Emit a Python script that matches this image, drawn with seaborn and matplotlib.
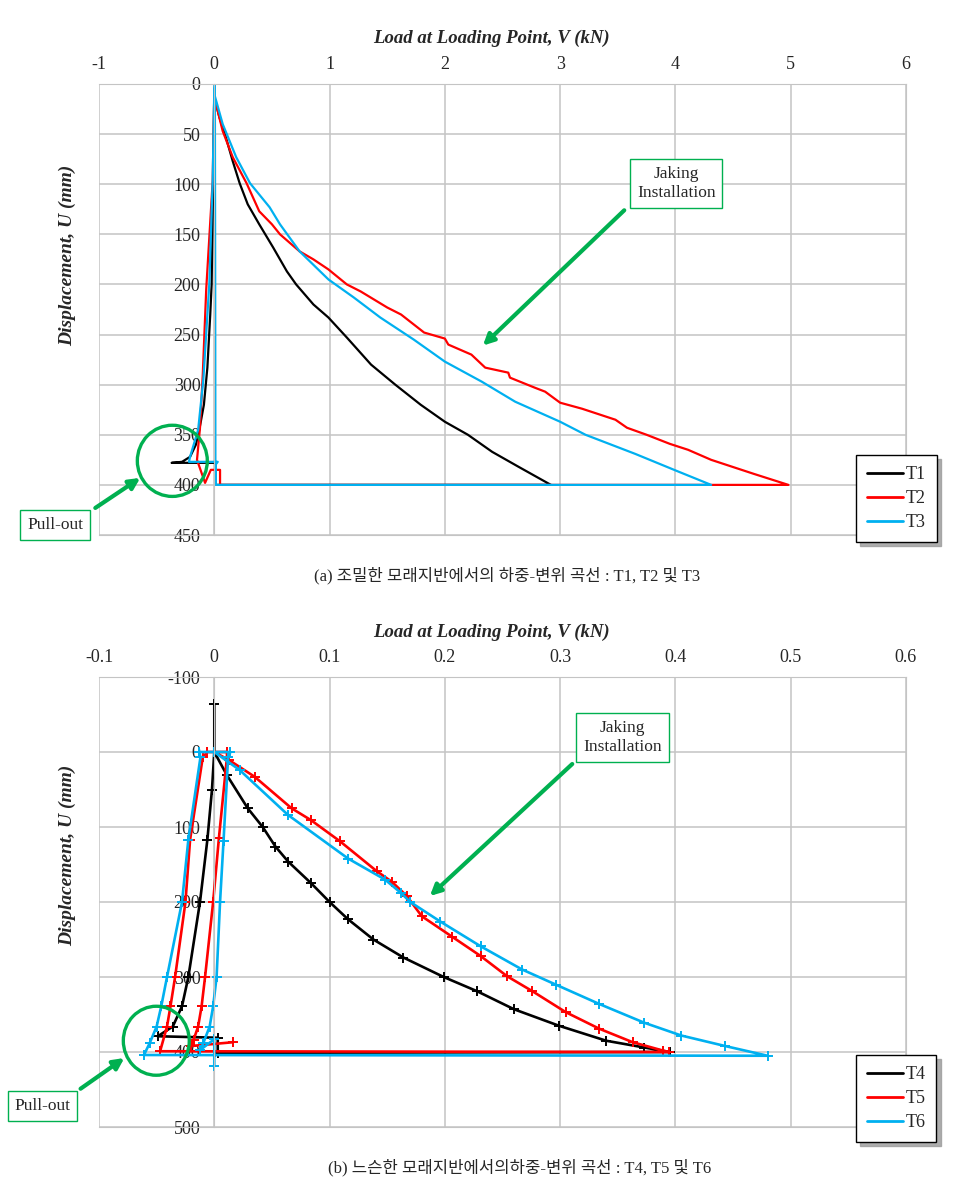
import numpy as np
import pandas as pd
import seaborn as sns
import matplotlib.pyplot as plt
from matplotlib.lines import Line2D
from matplotlib.patches import Ellipse

# ---- values: load V (kN) vs displacement U (mm) ----
# (a) dense sand
t1_load = [0.00, 0.044, 0.10, 0.16, 0.22, 0.29, 0.39, 0.51, 0.63, 0.71,
           0.86, 0.99, 1.15, 1.36, 1.57, 1.79, 2.00, 2.20, 2.41, 2.64, 2.92,
           0.01, 0.01, -0.37, -0.28, -0.21, -0.16, -0.13, -0.09, -0.06, -0.035, -0.023, -0.01, 0.00]
t1_disp = [13, 33, 53, 77, 99, 120, 140, 163, 187, 200,
           220, 233, 253, 280, 300, 320, 337, 350, 367, 382, 400,
           400, 378, 378, 377, 372, 360, 345, 320, 283, 230, 200, 100, 5]

t2_load = [0.00, 0.073, 0.16, 0.28, 0.39, 0.50, 0.57, 0.74, 0.86, 0.99,
           1.15, 1.27, 1.50, 1.62, 1.82, 2.00, 2.03, 2.23, 2.35, 2.55,
           2.565, 2.78, 2.87, 3.00, 3.19, 3.48, 3.58, 3.75, 3.95, 4.11,
           4.31, 4.68, 4.98,
           0.05, 0.05, -0.03, -0.08, -0.15, -0.124, -0.10, -0.07, -0.014, 0.00]
t2_disp = [13, 47, 73, 99, 127, 140, 150, 167, 175, 185,
           200, 207, 223, 230, 248, 254, 260, 270, 283, 288,
           293, 303, 307, 318, 324, 335, 343, 350, 359, 365,
           375, 389, 400,
           400, 385, 385, 398, 375, 343, 290, 205, 97, 10]

t3_load = [0.00, 0.073, 0.19, 0.31, 0.48, 0.57, 0.74, 0.99, 1.21, 1.44,
           1.73, 2.00, 2.32, 2.61, 3.00, 3.22, 3.65, 4.01, 4.31,
           0.01, 0.01, 0.03, -0.22, -0.21, -0.14, -0.095, -0.043, -0.014, 0.00, 0.005, 0.008, 0.01]
t3_disp = [10, 40, 73, 99, 123, 140, 167, 195, 213, 233,
           255, 277, 297, 317, 337, 350, 369, 386, 400,
           400, 380, 377, 377, 372, 345, 295, 199, 96, 5, 0, 200, 400]

# (b) loose sand
t4_load = [0.000, 0.011, 0.029, 0.042, 0.053, 0.064, 0.084, 0.100, 0.116, 0.138,
           0.164, 0.199, 0.228, 0.260, 0.299, 0.340, 0.373, 0.395,
           0.003, 0.003, -0.049, -0.036, -0.028, -0.0225, -0.0124, -0.006, -0.002, 0.000, 0.000]
t4_disp = [0, 31, 75, 100, 126, 146, 175, 200, 223, 250,
           274, 300, 319, 343, 365, 385, 394, 400,
           401, 381, 379, 366, 339, 300, 200, 117, 50, 0, -64]

t5_load = [0.000, 0.013, 0.035, 0.067, 0.084, 0.109, 0.141, 0.154, 0.167, 0.180,
           0.206, 0.231, 0.254, 0.276, 0.305, 0.334, 0.363, 0.389, 0.394,
           -0.047, -0.041, -0.038, -0.034, -0.025, -0.021, -0.010, -0.006,
           0.011, 0.011, 0.004, -0.001, -0.008, -0.011, -0.014, -0.018, -0.020, 0.016]
t5_disp = [0, 11, 33, 75, 91, 119, 159, 173, 192, 219,
           246, 272, 299, 319, 347, 369, 387, 398, 400,
           399, 366, 339, 300, 200, 117, 7, 0,
           0, 7, 115, 200, 300, 339, 366, 384, 392, 387]

t6_load = [0.000, 0.022, 0.064, 0.116, 0.148, 0.162, 0.170, 0.196, 0.231, 0.267,
           0.296, 0.334, 0.373, 0.405, 0.443, 0.480,
           -0.061, -0.056, -0.050, -0.046, -0.041, -0.028, -0.0225, -0.012, -0.013,
           0.014, 0.012, 0.008, 0.005, 0.002, -0.001, -0.004, -0.0095, -0.012, 0.000, 0.000]
t6_disp = [0, 24, 84, 142, 170, 188, 200, 226, 259, 290,
           310, 336, 361, 378, 392, 405,
           404, 388, 366, 339, 300, 200, 117, 7, 0,
           0, 7, 119, 200, 300, 339, 366, 388, 397, 383, 419]

top_xticks = [-1, 0, 1, 2, 3, 4, 5, 6]
top_yticks = [0, 50, 100, 150, 200, 250, 300, 350, 400, 450]
bot_xticks = [-0.1, 0, 0.1, 0.2, 0.3, 0.4, 0.5, 0.6]
bot_xlabels = ['-0.1', '0', '0.1', '0.2', '0.3', '0.4', '0.5', '0.6']
bot_yticks = [-100, 0, 100, 200, 300, 400, 500]

colors = ['black', '#ff0000', '#00b0f0']
green = '#00b050'


def make_df(names, loads, disps):
    parts = []
    for n, l, d in zip(names, loads, disps):
        parts.append(pd.DataFrame({'load': l, 'disp': d, 'test': n}))
    return pd.concat(parts, ignore_index=True)


df_a = make_df(['T1', 'T2', 'T3'], [t1_load, t2_load, t3_load], [t1_disp, t2_disp, t3_disp])
df_b = make_df(['T4', 'T5', 'T6'], [t4_load, t5_load, t6_load], [t4_disp, t5_disp, t6_disp])

sns.set_style('white')
plt.rcParams['font.family'] = ['Liberation Serif', 'Noto Sans CJK KR', 'DejaVu Sans']
plt.rcParams['axes.unicode_minus'] = False

fig = plt.figure(figsize=(9.54, 11.85), dpi=100)
ax1 = fig.add_axes([99 / 954, 1 - 535 / 1185, 807 / 954, 451 / 1185])
ax2 = fig.add_axes([99 / 954, 1 - 1127 / 1185, 807 / 954, 450 / 1185])

sns.lineplot(data=df_a, x='load', y='disp', hue='test', palette=colors, sort=False,
             estimator=None, lw=1.6, legend=False, ax=ax1)
sns.lineplot(data=df_b, x='load', y='disp', hue='test', palette=colors, sort=False,
             estimator=None, lw=1.9, marker='+', markersize=7, legend=False, ax=ax2)
for ln in ax2.lines:
    ln.set_markeredgecolor(ln.get_color())
    ln.set_markeredgewidth(1.4)


def style_axes(ax, xlim, xticks, ylim, yticks, xlabels=None):
    ax.set_xlim(*xlim)
    ax.set_ylim(*ylim)
    ax.set_xticks(xticks)
    if xlabels is not None:
        ax.set_xticklabels(xlabels)
    ax.set_yticks(yticks)
    ax.xaxis.tick_top()
    ax.xaxis.set_label_position('top')
    ax.grid(True, color='#c4c4c4', lw=1.1)
    ax.set_axisbelow(True)
    ax.spines['left'].set_position(('data', 0))
    for s in ax.spines.values():
        s.set_color('#c4c4c4')
    ax.tick_params(axis='both', length=0, labelsize=13)
    ax.tick_params(axis='x', pad=8)
    ax.tick_params(axis='y', pad=10)
    ax.set_xlabel('Load at Loading Point, V (kN)', fontsize=13.5, fontweight='bold', style='italic')
    ax.set_ylabel('Displacement, U (mm)', fontsize=14, fontweight='bold', style='italic')


style_axes(ax1, (-1, 6), top_xticks, (450, 0), top_yticks)
style_axes(ax2, (-0.1, 0.6), bot_xticks, (500, -100), bot_yticks, bot_xlabels)
ax1.xaxis.set_label_coords(0.486, 1.091)
ax1.yaxis.set_label_coords(-0.028, 0.62)
ax2.xaxis.set_label_coords(0.486, 1.089)
ax2.yaxis.set_label_coords(-0.028, 0.604)

box = dict(boxstyle='square,pad=0.4', fc='white', ec=green, lw=1)
arrow = dict(arrowstyle='-|>', color=green, lw=3, mutation_scale=16, shrinkA=0, shrinkB=0)

# (a) annotations
ax1.text(4.007, 99, 'Jaking\nInstallation', ha='center', va='center', fontsize=12.5,
         linespacing=1.25, bbox=box)
ax1.annotate('', xy=(2.33, 261), xytext=(3.556, 126), arrowprops=arrow)
ax1.text(-1.379, 440, 'Pull-out', ha='center', va='center', fontsize=12.5, bbox=box)
ax1.annotate('', xy=(-0.642, 393), xytext=(-1.032, 423), arrowprops=arrow, annotation_clip=False)
ax1.add_patch(Ellipse((-0.364, 376), 0.607, 71, fill=False, ec=green, lw=2.4, zorder=5))

# (b) annotations
ax2.text(0.354, -19, 'Jaking\nInstallation', ha='center', va='center', fontsize=12.5,
         linespacing=1.25, bbox=box)
ax2.annotate('', xy=(0.187, 192), xytext=(0.3105, 16), arrowprops=arrow)
ax2.text(-0.149, 472, 'Pull-out', ha='center', va='center', fontsize=12.5, bbox=box)
ax2.annotate('', xy=(-0.078, 408), xytext=(-0.116, 449), arrowprops=arrow, annotation_clip=False)
ax2.add_patch(Ellipse((-0.0503, 385), 0.0572, 92, fill=False, ec=green, lw=2.4, zorder=5))

# legends outside the plot area
for ax, names, top in [(ax1, ['T1', 'T2', 'T3'], 455), (ax2, ['T4', 'T5', 'T6'], 1055)]:
    handles = [Line2D([], [], color=c, lw=2) for c in colors]
    fig.legend(handles, names, loc='upper left', bbox_to_anchor=(856 / 954, 1 - top / 1185),
               borderaxespad=0, fontsize=13, frameon=True, fancybox=False, edgecolor='black',
               framealpha=1, shadow={'color': '#9a9a9a', 'alpha': 0.8, 'ox': 3, 'oy': -3},
               handlelength=2.0, handletextpad=0.15, borderpad=0.6, labelspacing=0.4)

fig.text(507 / 954, 1 - 576 / 1185, '(a) 조밀한 모래지반에서의 하중-변위 곡선 : T1, T2 및 T3',
         ha='center', va='center', fontsize=12)
fig.text(520 / 954, 1 - 1168 / 1185, '(b) 느슨한 모래지반에서의하중-변위 곡선 : T4, T5 및 T6',
         ha='center', va='center', fontsize=12)

fig.savefig('out.png', dpi=100)
